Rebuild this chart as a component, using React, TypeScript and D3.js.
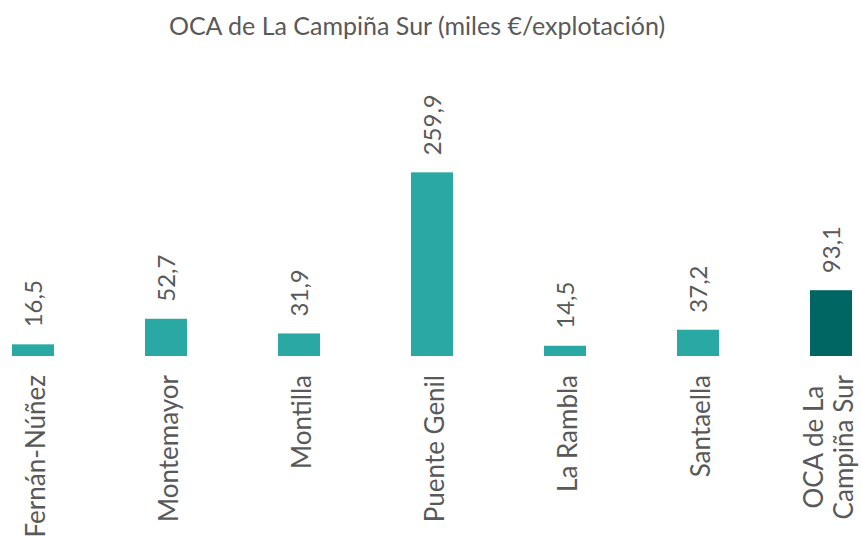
import { useEffect, useRef } from 'react';
import * as d3 from 'd3';

const title = 'OCA de La Campiña Sur (miles €/explotación)';
const categories = ['Fernán-Núñez', 'Montemayor', 'Montilla', 'Puente Genil', 'La Rambla', 'Santaella', 'OCA de La\nCampiña Sur'];
const values = [16.5, 52.7, 31.9, 259.9, 14.5, 37.2, 93.1];
const highlight = ['OCA de La\nCampiña Sur'];

const W = 861;
const H = 536;
const FONT = 'Lato, "Open Sans", sans-serif';
const TEXT = '#595959';

const fmt = (v: number) => v.toFixed(1).replace('.', ',');

const App = () => {
  const ref = useRef<SVGSVGElement>(null);

  useEffect(() => {
    document.body.style.margin = '0';
    const svg = d3.select(ref.current);
    svg.selectAll('*').remove();

    const x = d3.scaleBand<string>()
      .domain(categories)
      .range([-33.5, 897.5])
      .paddingInner(0.684)
      .paddingOuter(0.342);

    const y = d3.scaleLinear()
      .domain([0, 300])
      .range([356, 144]);

    const data = categories.map((c, i) => ({ c, v: values[i] }));
    const cx = (c: string) => x(c)! + x.bandwidth() / 2;

    svg.append('text')
      .attr('x', 417)
      .attr('y', 35)
      .attr('text-anchor', 'middle')
      .attr('font-size', 25)
      .attr('fill', TEXT)
      .text(title);

    svg.append('g')
      .selectAll('rect')
      .data(data)
      .join('rect')
      .attr('x', d => x(d.c)!)
      .attr('y', d => y(d.v))
      .attr('width', x.bandwidth())
      .attr('height', d => y(0) - y(d.v))
      .attr('fill', d => highlight.includes(d.c) ? '#006663' : '#2AA8A4');

    // value labels, rotated
    svg.append('g')
      .selectAll('text')
      .data(data)
      .join('text')
      .attr('transform', d => `translate(${cx(d.c)},${y(d.v) - 17}) rotate(-90)`)
      .attr('y', 9)
      .attr('font-size', 24)
      .attr('fill', TEXT)
      .text(d => fmt(d.v));

    // category labels, rotated, possibly two lines
    const labels = svg.append('g')
      .selectAll('text')
      .data(data)
      .join('text')
      .attr('transform', d => `translate(${cx(d.c)},375) rotate(-90)`)
      .attr('text-anchor', 'end')
      .attr('font-size', 26)
      .attr('fill', TEXT);

    labels.each(function (d) {
      const t = d3.select(this);
      const lines = d.c.split('\n');
      const n = lines.length;
      const spans = lines.map((ln, i) => t.append('tspan')
        .attr('x', 0)
        .attr('y', 12 + (i - (n - 1) / 2) * 30 - (n - 1) * 5)
        .text(ln));
      if (n > 1) {
        // center lines on the longest one, like Excel
        const lens = spans.map(s => (s.node() as SVGTSpanElement).getComputedTextLength());
        const max = d3.max(lens)!;
        spans.forEach((s, i) => s.attr('x', -(max - lens[i]) / 2));
      }
    });
  }, []);

  return (
    <svg ref={ref} width={W} height={H} style={{ display: 'block', fontFamily: FONT, background: '#fff' }} />
  );
};

export default App;
